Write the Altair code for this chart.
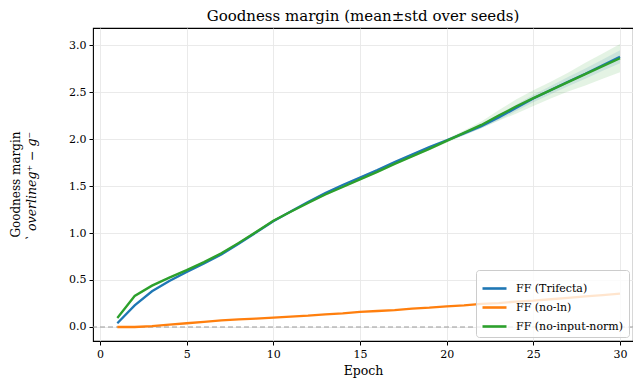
import altair as alt
import pandas as pd

epochs = list(range(1, 31))
series_names = ["FF (Trifecta)", "FF (no-ln)", "FF (no-input-norm)"]
series_colors = ["#1f77b4", "#ff7f0e", "#2ca02c"]

trifecta_mean = [0.04, 0.23, 0.38, 0.49, 0.585, 0.675, 0.77, 0.885, 1.005, 1.125,
                 1.23, 1.33, 1.425, 1.51, 1.59, 1.67, 1.755, 1.835, 1.915, 1.985,
                 2.06, 2.135, 2.23, 2.33, 2.43, 2.52, 2.61, 2.695, 2.785, 2.875]
trifecta_std = [0.01, 0.01, 0.01, 0.01, 0.01, 0.01, 0.01, 0.01, 0.01, 0.01,
                0.01, 0.01, 0.01, 0.01, 0.01, 0.01, 0.01, 0.01, 0.01, 0.015,
                0.02, 0.02, 0.03, 0.035, 0.04, 0.045, 0.05, 0.055, 0.06, 0.07]
noln_mean = [0.0, 0.0, 0.01, 0.025, 0.04, 0.055, 0.07, 0.08, 0.09, 0.10,
             0.11, 0.12, 0.135, 0.145, 0.16, 0.17, 0.18, 0.195, 0.205, 0.22,
             0.23, 0.245, 0.255, 0.27, 0.28, 0.295, 0.31, 0.325, 0.34, 0.355]
noln_std = [0.005] * 30
noinput_mean = [0.095, 0.33, 0.44, 0.525, 0.605, 0.69, 0.785, 0.895, 1.01, 1.13,
                1.225, 1.32, 1.41, 1.49, 1.57, 1.65, 1.735, 1.815, 1.895, 1.98,
                2.065, 2.15, 2.25, 2.345, 2.435, 2.52, 2.605, 2.69, 2.775, 2.86]
noinput_std = [0.01, 0.01, 0.01, 0.01, 0.01, 0.01, 0.01, 0.01, 0.01, 0.01,
               0.01, 0.01, 0.01, 0.01, 0.01, 0.01, 0.01, 0.01, 0.015, 0.02,
               0.025, 0.035, 0.055, 0.075, 0.085, 0.09, 0.10, 0.12, 0.135, 0.15]

x_ticks = [0, 5, 10, 15, 20, 25, 30]
y_ticks = [0.0, 0.5, 1.0, 1.5, 2.0, 2.5, 3.0]

rows = []
for k, (name, means, stds) in enumerate(zip(series_names,
                                            [trifecta_mean, noln_mean, noinput_mean],
                                            [trifecta_std, noln_std, noinput_std])):
    for e, m, s in zip(epochs, means, stds):
        rows.append({"epoch": e, "series": name, "k": k,
                     "mean": m, "lo": m - s, "hi": m + s})
df = pd.DataFrame(rows)

FONT = "DejaVu Serif"
W, H = 540, 313

xscale = alt.Scale(domain=[-0.404, 30.75], nice=False, zero=False)
yscale = alt.Scale(domain=[-0.149, 3.181], nice=False, zero=False)

xenc = alt.X("epoch:Q", scale=xscale,
             axis=alt.Axis(values=x_ticks, format="d", title="Epoch", titlePadding=5))
yaxis = alt.Axis(values=y_ticks, format=".1f", title=None)
base = alt.Chart(df)

band_layers = []
for name, col in zip(series_names, series_colors):
    band_layers.append(
        base.transform_filter(alt.datum.series == name).mark_area(
            opacity=0.13, color=col).encode(
            x=xenc,
            y=alt.Y("lo:Q", scale=yscale, axis=yaxis),
            y2="hi:Q",
        )
    )

zero = alt.Chart(pd.DataFrame({"z": [0.0]})).mark_rule(
    color="#999999", strokeDash=[5, 3], strokeWidth=1.2
).encode(y=alt.Y("z:Q", scale=yscale))

lines = base.mark_line(strokeWidth=2.3).encode(
    x=xenc,
    y=alt.Y("mean:Q", scale=yscale),
    color=alt.Color("series:N", scale=alt.Scale(domain=series_names, range=series_colors),
                    sort=series_names,
                    legend=alt.Legend(title=None, orient="bottom-right", offset=4,
                                      symbolType="M-1,0L1,0", symbolSize=576,
                                      symbolStrokeWidth=2.6, labelFont=FONT,
                                      labelFontSize=11, labelOffset=8,
                                      rowPadding=0, padding=5,
                                      fillColor="rgba(255,255,255,0.8)",
                                      strokeColor="#cccccc", cornerRadius=3)),
    order=alt.Order("k:Q"),
)

lbl = pd.DataFrame({"t1": ["Goodness margin"], "t2": ["`  overlineg\u207a \u2212 g\u207b"]})
ylab1 = alt.Chart(lbl).mark_text(angle=270, font=FONT, fontSize=12, align="center",
                                 baseline="middle", color="black").encode(
    x=alt.value(-77), y=alt.value(H / 2), text="t1:N")
ylab2 = alt.Chart(lbl).mark_text(angle=270, font=FONT, fontSize=12.5, fontStyle="italic",
                                 align="center", baseline="middle", color="black").encode(
    x=alt.value(-61), y=alt.value(H / 2 + 2), text="t2:N")

chart = alt.layer(*band_layers, zero, lines, ylab1, ylab2).properties(
    width=W, height=H,
    title=alt.TitleParams("Goodness margin (mean\u00b1std over seeds)", font=FONT,
                          fontSize=15, fontWeight="normal", color="black", offset=4),
    autosize=alt.AutoSizeParams(type="none"),
    padding={"left": 85, "top": 20, "right": 0, "bottom": 44},
).configure_axis(
    labelFont=FONT, labelFontSize=11, labelColor="black", tickColor="black",
    tickSize=4, domain=False, gridColor="#e8e8e8", gridWidth=0.9,
    titleFont=FONT, titleFontSize=12.5, titleFontWeight="normal", titleColor="black",
    labelPadding=3,
).configure_view(stroke="black", strokeWidth=1.1)

chart.save("out.html", embed_options={"renderer": "svg", "actions": False})
